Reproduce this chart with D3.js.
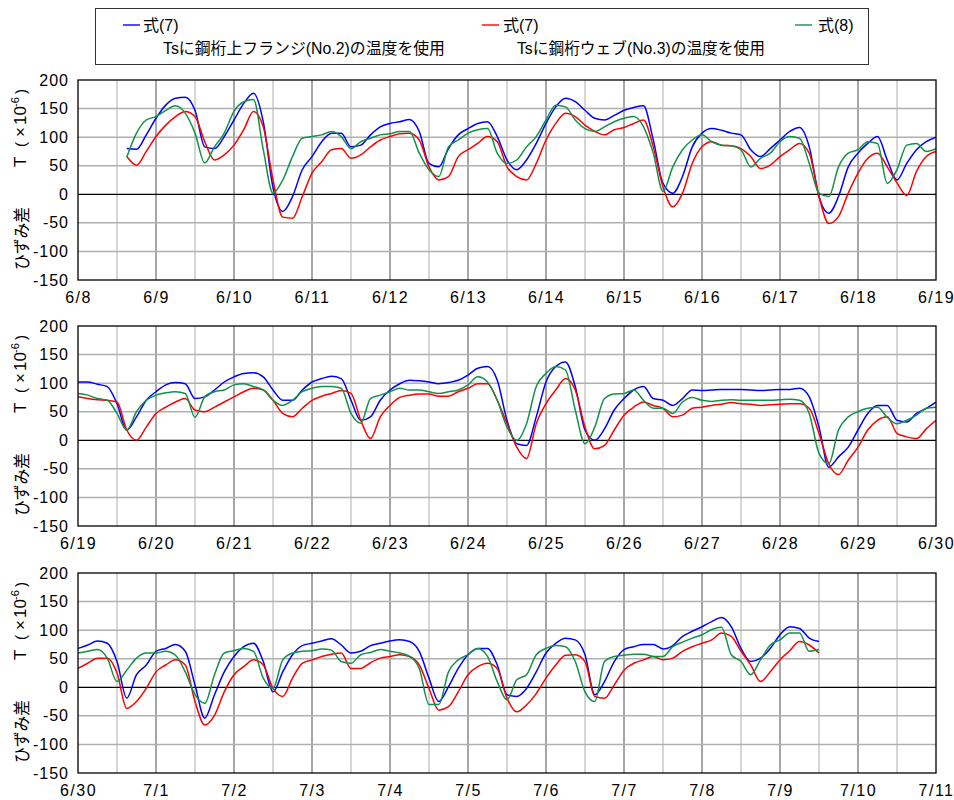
<!DOCTYPE html>
<html><head><meta charset="utf-8">
<script src="https://cdn.jsdelivr.net/npm/d3@7"></script>
<style>body{margin:0;background:#fff}</style>
</head><body><svg id="c" width="954" height="800"></svg>
<script>
// ---------- data ----------
const STEP_HOURS = 3;               // sampling interval of every series
const yTicks = [-150, -100, -50, 0, 50, 100, 150, 200];

const p1Dates = ["6/8","6/9","6/10","6/11","6/12","6/13","6/14","6/15","6/16","6/17","6/18","6/19"];
const p2Dates = ["6/19","6/20","6/21","6/22","6/23","6/24","6/25","6/26","6/27","6/28","6/29","6/30"];
const p3Dates = ["6/30","7/1","7/2","7/3","7/4","7/5","7/6","7/7","7/8","7/9","7/10","7/11"];

const legendLabels = ["式(7)", "式(7)", "式(8)"];
const legendNotes = ["Tsに鋼桁上フランジ(No.2)の温度を使用", "Tsに鋼桁ウェブ(No.3)の温度を使用", ""];

// panel 1 : first sample 6/8 15:00
const p1Start = 15;
const p1Blue = [80,79,104,133,156,168,170,147,83,80,101,130,159,177,127,12,-30,-4,43,66,92,107,107,83,86,104,118,124,127,131,110,54,48,80,104,115,124,127,101,
  60,43,60,89,124,153,168,162,147,133,130,138,147,152,155,95,19,2,31,83,107,115,112,107,104,78,66,80,95,110,117,83,-4,-33,-4,48,72,89,101,60,25,54,78,92,100];
const p1Red = [66,51,75,101,121,136,145,136,92,60,69,86,113,145,118,25,-40,-42,-4,37,57,78,80,63,69,83,95,101,106,107,95,48,25,31,66,78,89,101,92,
  48,31,25,54,95,124,142,136,121,110,104,113,117,124,130,83,13,-22,2,54,83,92,86,85,80,66,45,51,66,78,89,72,-4,-51,-39,2,37,63,72,48,20,-2,40,66,75];
const p1Green = [65,107,130,136,147,155,142,107,55,83,107,145,162,166,78,2,25,66,98,101,104,110,101,80,92,98,104,106,110,110,72,43,31,83,95,107,113,115,72,
  54,60,83,101,130,156,153,130,115,110,118,127,133,136,118,72,5,48,78,95,104,92,86,85,78,48,63,72,92,101,98,54,2,-4,48,72,78,92,89,19,43,86,89,75,80];

// panel 2 : first sample 6/19 0:00
const p2Start = 0;
const p2Blue = [102,102,98,94,64,18,41,70,85,97,101,99,73,76,88,102,111,117,118,111,88,70,70,88,102,108,112,108,70,35,41,
  70,88,99,105,104,102,99,101,105,114,126,129,105,35,-6,-9,41,102,129,137,94,18,0,20,53,73,88,94,73,
  70,61,73,88,87,88,89,89,89,88,87,88,89,89,91,76,23,-47,-29,-12,18,47,61,61,35,32,47,56,67];
const p2Red = [76,73,71,70,67,18,0,23,47,58,67,73,53,50,58,67,76,85,91,88,70,47,41,56,70,77,82,87,82,35,3,
  41,61,75,79,81,81,77,77,85,91,99,99,70,29,-12,-32,29,64,88,108,88,23,-15,-9,18,44,58,67,61,
  56,41,44,56,58,61,63,66,64,63,61,62,63,64,64,56,12,-41,-60,-35,-12,18,35,41,12,6,3,20,35];
const p2Green = [82,79,73,70,47,18,50,70,79,83,85,82,40,76,85,88,97,99,94,88,70,61,70,85,91,94,94,91,47,30,73,
  79,85,91,88,88,85,82,85,88,97,111,102,70,23,0,29,94,117,129,123,53,-6,23,73,81,82,88,70,56,
  56,47,67,75,70,68,70,71,70,70,70,70,71,72,70,47,-23,-41,18,41,50,56,58,40,29,35,44,56,58];

// panel 3 : first sample 6/30 0:00
const p3Start = 0;
const p3Blue = [68,74,81,77,45,-19,22,39,63,68,75,63,4,-54,-13,27,54,71,77,45,-8,27,57,73,77,81,85,74,60,63,73,
  77,81,83,80,63,16,-25,1,33,57,68,68,39,-13,-16,-2,27,60,77,86,83,57,-13,10,45,66,71,75,75,
  67,73,89,98,106,115,122,106,68,45,51,68,92,106,103,86,80];
const p3Red = [33,42,51,51,25,-37,-25,-2,27,39,48,39,-25,-66,-49,-8,22,36,48,39,-2,-16,16,42,48,54,58,60,33,33,43,
  51,54,57,54,39,-2,-40,-34,-8,22,36,42,33,-19,-43,-31,-11,16,39,56,57,45,-16,-19,4,30,42,48,54,
  48,51,63,71,77,83,95,89,63,39,10,27,48,64,80,74,60];
const p3Green = [60,63,66,51,10,30,51,60,60,63,56,27,-13,-28,22,60,64,68,63,16,-2,48,60,63,64,67,65,45,42,57,61,
  66,63,60,54,33,-30,-30,27,48,57,68,54,10,-22,13,22,57,68,73,71,45,-8,-25,45,54,56,58,58,54,
  54,71,79,86,92,101,105,57,45,22,48,74,83,95,95,63,66];

// ---------- drawing ----------
const colors = {blue: "#0000ff", red: "#ff0000", green: "#12914a"};
const svg = d3.select("#c");
const X0 = 78, X1 = 936, SPAN = 264;
const latin = "'Liberation Sans', Arial, sans-serif";
const cjk = "'Liberation Sans', 'Noto Sans CJK JP', sans-serif";

const panels = [
  {top: 80,  bottom: 280, dates: p1Dates, start: p1Start, blue: p1Blue, red: p1Red, green: p1Green},
  {top: 326, bottom: 526, dates: p2Dates, start: p2Start, blue: p2Blue, red: p2Red, green: p2Green},
  {top: 573, bottom: 773, dates: p3Dates, start: p3Start, blue: p3Blue, red: p3Red, green: p3Green}
];

panels.forEach((p, pi) => {
  const x = d3.scaleLinear().domain([0, SPAN]).range([X0, X1]);
  const y = d3.scaleLinear().domain([-150, 200]).range([p.bottom, p.top]);
  const g = svg.append("g");

  // vertical grid every 12 h
  d3.range(12, SPAN, 12).forEach(h => {
    g.append("line").attr("x1", x(h)).attr("x2", x(h)).attr("y1", p.top).attr("y2", p.bottom)
      .attr("stroke", h % 24 === 0 ? "#8a8a8a" : "#c8c8c8").attr("stroke-width", 1.5);
  });
  // horizontal grid
  yTicks.filter(v => v !== -150 && v !== 200 && v !== 0).forEach(v => {
    g.append("line").attr("x1", X0).attr("x2", X1).attr("y1", y(v)).attr("y2", y(v))
      .attr("stroke", "#b0b0b0").attr("stroke-width", 1.5);
  });
  g.append("line").attr("x1", X0).attr("x2", X1).attr("y1", y(0)).attr("y2", y(0))
    .attr("stroke", "#000").attr("stroke-width", 1.3);

  const clipId = "clip" + pi;
  svg.append("clipPath").attr("id", clipId).append("rect")
    .attr("x", X0).attr("y", p.top).attr("width", X1 - X0).attr("height", p.bottom - p.top);

  ["blue", "red", "green"].forEach(key => {
    const vals = p[key];
    const line = d3.line().curve(d3.curveMonotoneX)
      .x((d, i) => x(p.start + i * STEP_HOURS)).y(d => y(d));
    g.append("path").datum(vals).attr("d", line).attr("fill", "none")
      .attr("stroke", colors[key]).attr("stroke-width", 1.5)
      .attr("stroke-linejoin", "round").attr("clip-path", `url(#${clipId})`);
  });

  g.append("rect").attr("x", X0).attr("y", p.top).attr("width", X1 - X0).attr("height", p.bottom - p.top)
    .attr("fill", "none").attr("stroke", "#000").attr("stroke-width", 1.3);

  // y axis
  const ya = g.append("g").attr("transform", `translate(${X0},0)`)
    .call(d3.axisLeft(y).tickValues(yTicks).tickSize(0).tickPadding(9).tickFormat(d => String(d)));
  ya.select(".domain").remove();
  ya.selectAll("text").attr("font-family", latin).attr("font-size", 16).attr("fill", "#000")
    .attr("letter-spacing", 1);

  // x axis
  const xa = g.append("g").attr("transform", `translate(0,${p.bottom})`)
    .call(d3.axisBottom(x).tickValues(d3.range(0, SPAN + 1, 24)).tickSize(0).tickPadding(12)
      .tickFormat((d, i) => p.dates[i]));
  xa.select(".domain").remove();
  xa.selectAll("text").attr("font-family", latin).attr("font-size", 16).attr("fill", "#000")
    .attr("letter-spacing", 1.5);

  // y title (rotated, reads bottom to top)
  const cy = p.top + 100;
  const tg = g.append("g").attr("transform", `translate(20,${cy}) rotate(-90)`);
  tg.append("text").attr("x", -90).attr("y", 0).attr("dominant-baseline", "central")
    .attr("font-family", "'Noto Sans CJK JP', sans-serif").attr("font-size", 17)
    .attr("textLength", 63).attr("lengthAdjust", "spacingAndGlyphs").text("ひずみ差");
  const parts = [
    {t: "T", x: 13, y: 0, fs: 17},
    {t: "(", x: 33, y: 0, fs: 15},
    {t: "×", x: 43, y: 0, fs: 17},
    {t: "10", x: 55, y: 0, fs: 17},
    {t: "-6", x: 73, y: -5, fs: 11},
    {t: ")", x: 86, y: 0, fs: 15}
  ];
  parts.forEach(pt => {
    tg.append("text").attr("x", pt.x).attr("y", pt.y).attr("dominant-baseline", "central")
      .attr("font-family", latin).attr("font-size", pt.fs).text(pt.t);
  });
});

// ---------- legend ----------
const lg = svg.append("g");
lg.append("rect").attr("x", 95.5).attr("y", 8.5).attr("width", 773).attr("height", 56)
  .attr("fill", "#fff").attr("stroke", "#333").attr("stroke-width", 1);
const legendPos = [
  {lx: 123, tx: 143, nx: 163, nw: 282, key: "blue"},
  {lx: 482, tx: 503, nx: 517, nw: 248, key: "red"},
  {lx: 795, tx: 818, nx: 0, nw: 0, key: "green"}
];
legendPos.forEach((lp, i) => {
  lg.append("line").attr("x1", lp.lx).attr("x2", lp.lx + 17).attr("y1", 25).attr("y2", 25)
    .attr("stroke", colors[lp.key]).attr("stroke-width", 1.4);
  lg.append("text").attr("x", lp.tx).attr("y", 25).attr("dominant-baseline", "central")
    .attr("font-family", cjk).attr("font-size", 16).text(legendLabels[i]);
  if (legendNotes[i]) {
    lg.append("text").attr("x", lp.nx).attr("y", 48).attr("dominant-baseline", "central")
      .attr("font-family", cjk).attr("font-size", 16)
      .attr("textLength", lp.nw).attr("lengthAdjust", "spacingAndGlyphs").text(legendNotes[i]);
  }
});
</script></body></html>
